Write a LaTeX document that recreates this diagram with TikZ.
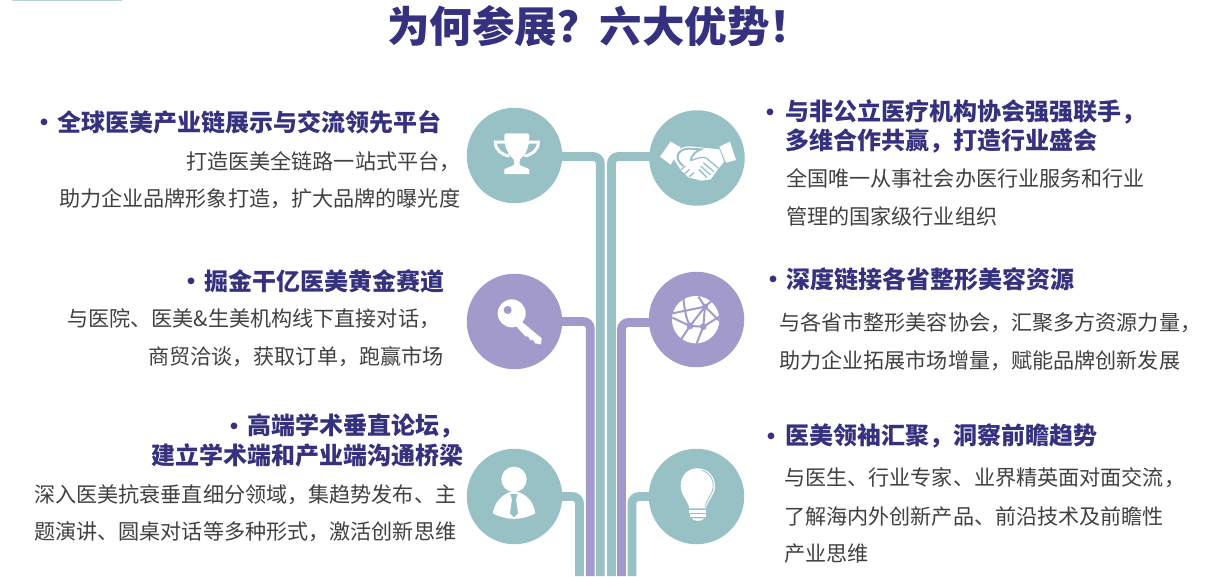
\documentclass[tikz,border=0pt]{standalone}
\usepackage{fontspec}
\setmainfont{Noto Sans CJK SC}
\usepackage{tikz}
\usetikzlibrary{positioning}
\newcommand{\wcomma}{\char"FF0C\relax}
\newcommand{\wquery}{\char"FF1F\relax}
\newcommand{\wbang}{\char"FF01\relax}
\definecolor{tealfill}{HTML}{98C1C5}
\definecolor{purplefill}{HTML}{A29ACB}
\definecolor{titleblue}{HTML}{35317F}
\definecolor{bodygray}{HTML}{404040}
\tikzset{
	titletext/.style={text=titleblue, font=\fontsize{42.5}{42}\selectfont\bfseries, anchor=west, inner sep=0pt},
	headtext/.style={text=titleblue, font=\fontsize{24}{24}\selectfont\bfseries, anchor=west, inner sep=0pt},
	dotmark/.style={text=titleblue, font=\fontsize{24}{24}\selectfont\bfseries, inner sep=0pt, yshift=-3pt},
	bodytext/.style={text=bodygray, font=\fontsize{21.1}{21}\selectfont, anchor=west, inner sep=0pt},
	tealdisc/.style={circle, fill=tealfill, minimum size=95.5pt, inner sep=0pt},
	purpledisc/.style={circle, fill=purplefill, minimum size=95.5pt, inner sep=0pt},
	tealpipe/.style={draw=tealfill, line width=8.8pt, rounded corners=7pt},
	purplepipe/.style={draw=purplefill, line width=8.8pt, rounded corners=7pt},
	iconA/.style={shift={(440,90)}, scale=1/3},
	iconB/.style={shift={(440,380)}, scale=1/3}
}
\begin{document}
\begin{tikzpicture}[x=1pt, y=-1pt]
	\useasboundingbox (0,0) rectangle (1208,576);
	\fill[tealfill!70] (12,0) rectangle (122,1);
	\node[tealdisc] (trophy) at (514.5,155.5) {};
	\node[tealdisc] (shake) at (697,158) {};
	\node[purpledisc] (key) at (514.5,321.5) {};
	\node[purpledisc] (globe) at (696.5,319.5) {};
	\node[tealdisc] (person) at (514.5,496.5) {};
	\node[tealdisc] (bulb) at (696.5,496.5) {};
	\coordinate (trophyend) at (600.2,576);
	\coordinate (shakeend) at (611.4,576);
	\coordinate (keyend) at (590.2,576);
	\coordinate (globeend) at (621.5,576);
	\coordinate (personend) at (579.5,576);
	\coordinate (bulbend) at (632,576);
	\draw[tealpipe] ([shift={(-1pt,-1pt)}]trophy.east) -| (trophyend);
	\draw[tealpipe] ([shift={(1pt,1.5pt)}]shake.west) -| (shakeend);
	\draw[purplepipe] ([xshift=-1pt]key.east) -| (keyend);
	\draw[purplepipe] ([shift={(1pt,-3pt)}]globe.west) -| (globeend);
	\draw[tealpipe] ([xshift=-1pt]person.east) -| (personend);
	\draw[tealpipe] ([xshift=1pt]bulb.west) -| (bulbend);
	% trophy
	\begin{scope}[iconA]
		\draw[white, line width=3pt] (197,156) -- (166,156) .. controls (166,180) and (185,195) .. (208,198);
		\draw[white, line width=3pt] (264,156) -- (295,156) .. controls (295,180) and (276,195) .. (253,198);
		\fill[white] (200,130) -- (261,130) .. controls (268,130) and (268,135) .. (268,140) .. controls (268,180) and (250,200) .. (240,208) -- (238,222) .. controls (240,230) and (262,232) .. (268,238) -- (268,252) -- (193,252) -- (193,238) .. controls (199,232) and (221,230) .. (223,222) -- (221,208) .. controls (211,200) and (193,180) .. (193,140) .. controls (193,135) and (193,130) .. (200,130) -- cycle;
	\end{scope}
	% handshake
	\begin{scope}[iconA]
		\fill[white] (660,200) -- (692,155) -- (722,172) -- (692,224) -- cycle;
		\fill[white] (838,170) -- (870,155) -- (888,210) -- (858,218) -- cycle;
		\fill[white] (700,205) .. controls (705,180) and (730,165) .. (760,170) -- (838,178) -- (852,215) -- (832,240) -- (812,268) -- (785,272) -- (745,262) -- (722,240) -- cycle;
		\draw[tealfill, line width=2pt] (730,228) .. controls (700,205) and (712,178) .. (745,176) -- (782,178) .. controls (765,185) and (752,200) .. (752,212);
		\draw[tealfill, line width=1.3pt] (752,212) .. controls (770,205) and (790,198) .. (800,205) -- (835,235);
		\draw[tealfill, line width=1.3pt] (790,218) -- (822,245) (782,228) -- (812,255) (776,238) -- (800,262);
		\draw[tealfill, line width=1.3pt] (736,228) -- (722,240) (748,238) -- (734,252) (762,248) -- (748,260);
	\end{scope}
	% key
	\begin{scope}[iconA]
		\fill[white] (215,670) circle (42);
		\fill[white] (232,680) -- (245,695) -- (305,745) -- (303,763) -- (285,760) -- (280,750) -- (270,750) -- (265,740) -- (255,738) -- (225,705) -- cycle;
		\fill[purplefill] (203,660) circle (12);
	\end{scope}
	% globe
	\begin{scope}[iconA]
		\fill[white] (767,689) circle (71);
		\draw[purplefill, line width=2pt] (697,683) -- (750,708) -- (790,710) -- (838,680)
			(698,670) -- (795,650) -- (838,692)
			(730,622) .. controls (733,660) and (740,690) .. (750,708) -- (722,750)
			(795,650) -- (790,710) -- (770,760)
			(750,708) -- (795,650) -- (775,620)
			(795,650) -- (818,630);
		\fill[purplefill] (750,708) circle (10) (790,710) circle (10) (795,650) circle (9);
	\end{scope}
	% person
	\begin{scope}[iconB]
		\fill[white] (222,298) circle (38);
		\fill[white] (158,400) .. controls (165,365) and (185,345) .. (212,335) -- (232,335) .. controls (262,345) and (280,365) .. (286,400) .. controls (245,422) and (200,422) .. (158,400) -- cycle;
		\fill[tealfill] (211,342) -- (233,342) -- (228,358) -- (234,400) -- (222,412) -- (210,400) -- (216,358) -- cycle;
	\end{scope}
	% bulb
	\begin{scope}[iconB]
		\fill[white] (772,265) .. controls (805,265) and (825,290) .. (825,318) .. controls (825,345) and (803,360) .. (798,385) -- (748,385) .. controls (743,360) and (722,345) .. (722,318) .. controls (722,290) and (740,265) .. (772,265) -- cycle;
		\draw[tealfill, line width=0.8pt] (785,271) .. controls (808,277) and (821,297) .. (820,318) .. controls (820,340) and (800,355) .. (795,382);
		\fill[white] (748,391) rectangle (799,399);
		\fill[white] (750,403) rectangle (797,411);
		\fill[white] (755,415) -- (792,415) .. controls (788,425) and (760,425) .. (755,415) -- cycle;
	\end{scope}
	% texts
	\node[titletext] (title) at (387,26) {为何参展\wquery 六大优势\wbang};
	\node[dotmark] (dot1) at (44,122) {•};
	\node[headtext] (head1) at (57,122) {全球医美产业链展示与交流领先平台};
	\node[bodytext] (body1a) at (186,162) {打造医美全链路一站式平台\wcomma};
	\node[bodytext] (body1b) at (59,199) {助力企业品牌形象打造\wcomma 扩大品牌的曝光度};
	\node[dotmark] (dot2) at (191,281) {•};
	\node[headtext] (head2) at (204,281) {掘金干亿医美黄金赛道};
	\node[bodytext] (body2a) at (67,319) {与医院、医美\&生美机构线下直接对话\wcomma};
	\node[bodytext] (body2b) at (148,357) {商贸洽谈\wcomma 获取订单\wcomma 跑赢市场};
	\node[dotmark] (dot3) at (234,426) {•};
	\node[headtext] (head3a) at (247,426) {高端学术垂直论坛\wcomma};
	\node[headtext] (head3b) at (151,455) {建立学术端和产业端沟通桥梁};
	\node[bodytext] (body3a) at (34,495) {深入医美抗衰垂直细分领域\wcomma 集趋势发布、主};
	\node[bodytext] (body3b) at (34,532) {题演讲、圆桌对话等多种形式\wcomma 激活创新思维};
	\node[dotmark] (dot4) at (770,112) {•};
	\node[headtext] (head4a) at (785,112) {与非公立医疗机构协会强强联手\wcomma};
	\node[headtext] (head4b) at (785,141) {多维合作共赢\wcomma 打造行业盛会};
	\node[bodytext] (body4a) at (786,178) {全国唯一从事社会办医行业服务和行业};
	\node[bodytext] (body4b) at (786,216) {管理的国家级行业组织};
	\node[dotmark] (dot5) at (773,279) {•};
	\node[headtext] (head5) at (786,279) {深度链接各省整形美容资源};
	\node[bodytext] (body5a) at (779,323) {与各省市整形美容协会\wcomma 汇聚多方资源力量\wcomma};
	\node[bodytext] (body5b) at (779,361) {助力企业拓展市场增量\wcomma 赋能品牌创新发展};
	\node[dotmark] (dot6) at (771,436) {•};
	\node[headtext] (head6) at (785,436) {医美领袖汇聚\wcomma 洞察前瞻趋势};
	\node[bodytext] (body6a) at (784,478) {与医生、行业专家、业界精英面对面交流\wcomma};
	\node[bodytext] (body6b) at (784,516) {了解海内外创新产品、前沿技术及前瞻性};
	\node[bodytext] (body6c) at (784,554) {产业思维};
\end{tikzpicture}
\end{document}
